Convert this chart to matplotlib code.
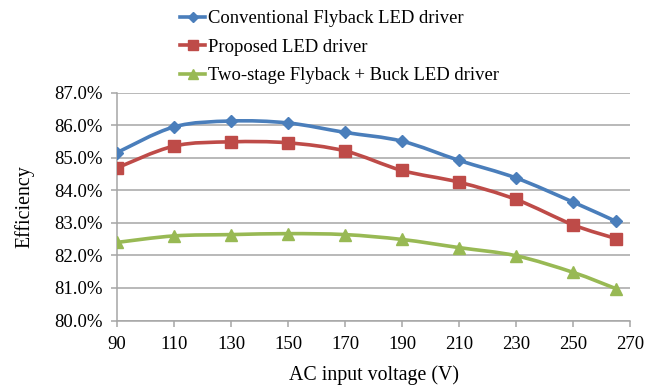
import numpy as np
import matplotlib.pyplot as plt
from matplotlib.path import Path
from matplotlib.patches import PathPatch
from matplotlib.lines import Line2D
from matplotlib.ticker import FuncFormatter

plt.rcParams['font.family'] = ['Liberation Serif', 'DejaVu Serif']

voltage = [90, 110, 130, 150, 170, 190, 210, 230, 250, 265]
conventional = [85.16, 85.95, 86.13, 86.07, 85.78, 85.51, 84.92, 84.38, 83.64, 83.05]
proposed = [84.69, 85.36, 85.49, 85.46, 85.21, 84.61, 84.25, 83.72, 82.94, 82.52]
two_stage = [82.40, 82.60, 82.64, 82.67, 82.64, 82.49, 82.24, 81.99, 81.48, 80.98]

labels = ['Conventional Flyback LED driver', 'Proposed LED driver',
          'Two-stage Flyback + Buck LED driver']
colors = ['#4A7EBB', '#BE4B48', '#98B954']
markers = ['D', 's', '^']
msizes = [6.5, 8, 8]


def smooth_path(x, y, t=1 / 6):
    # cubic bezier through the points, excel-style smoothed line
    x = np.asarray(x, float)
    y = np.asarray(y, float)
    n = len(x)
    verts = [(x[0], y[0])]
    codes = [Path.MOVETO]
    for i in range(n - 1):
        p0 = np.array([x[max(i - 1, 0)], y[max(i - 1, 0)]])
        p1 = np.array([x[i], y[i]])
        p2 = np.array([x[i + 1], y[i + 1]])
        p3 = np.array([x[min(i + 2, n - 1)], y[min(i + 2, n - 1)]])
        c1 = p1 + (p2 - p0) * t
        c2 = p2 - (p3 - p1) * t
        verts += [tuple(c1), tuple(c2), tuple(p2)]
        codes += [Path.CURVE4] * 3
    return Path(verts, codes)


fig = plt.figure(figsize=(6.6, 3.85), dpi=100)
ax = fig.add_axes([0.1773, 0.1675, 0.7773, 0.5917])

handles = []
for ys, lab, c, m, ms in zip([conventional, proposed, two_stage], labels, colors, markers, msizes):
    ax.add_patch(PathPatch(smooth_path(voltage, ys), fill=False, edgecolor=c, lw=2.6,
                           capstyle='round', joinstyle='round', zorder=3))
    ax.plot(voltage, ys, ls='none', marker=m, ms=ms, color=c, zorder=4)
    handles.append(Line2D([], [], color=c, lw=2.6, marker=m, ms=ms - 1))

ax.set_xlim(90, 270)
ax.set_ylim(80, 87)
ax.set_xticks(range(90, 271, 20))
ax.set_yticks(range(80, 88))
ax.yaxis.set_major_formatter(FuncFormatter(lambda v, p: f'{v:.1f}%'))
ax.grid(axis='y', color='#A6A6A6', lw=1.1)
ax.set_axisbelow(True)
for s in ['top', 'right']:
    ax.spines[s].set_visible(False)
for s in ['left', 'bottom']:
    ax.spines[s].set_color('#A6A6A6')
    ax.spines[s].set_linewidth(1.1)
ax.tick_params(colors='#A6A6A6', labelcolor='black', labelsize=13.5, length=4, width=1.1)
ax.tick_params(axis='x', pad=7)
ax.tick_params(axis='y', pad=6.5)
ax.set_xlabel('AC input voltage (V)', fontsize=14.3, labelpad=9)
ax.set_ylabel('Efficiency', fontsize=14.3, labelpad=14)

fig.legend(handles, labels, loc='upper left', bbox_to_anchor=(0.273, 0.974), frameon=False,
           fontsize=13.4, handlelength=1.35, handletextpad=0.16, labelspacing=0.62, borderpad=0,
           borderaxespad=0)

fig.savefig('out.png', dpi=100)
